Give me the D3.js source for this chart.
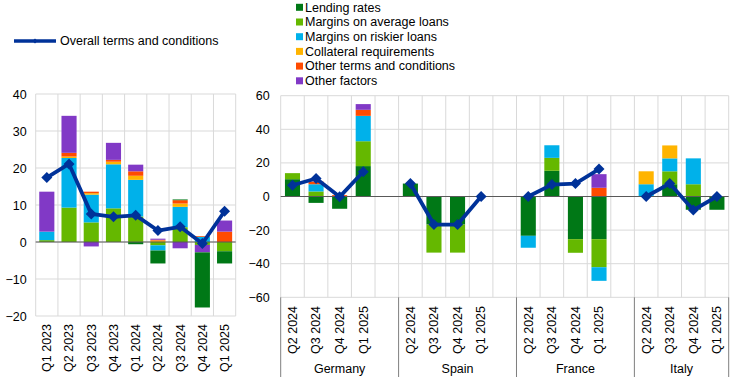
<!DOCTYPE html>
<html>
<head>
<meta charset="utf-8">
<script src="https://cdn.jsdelivr.net/npm/d3@7"></script>
<style>
  body { margin: 0; background: #fff; }
  text { font-family: Arial, "Liberation Sans", sans-serif; font-size: 12.5px; fill: #000; }
</style>
</head>
<body>
<svg id="chart" width="745" height="385"></svg>
<script>
// factor names, legend order
const factors = ["Lending rates", "Margins on average loans", "Margins on riskier loans",
                 "Collateral requirements", "Other terms and conditions", "Other factors"];
const factorKeys = ["lending", "avg", "riskier", "collateral", "otherTC", "otherFactors"];
const factorColours = ["#007816", "#65b800", "#00b1ea", "#ffb400", "#ff4b00", "#8139c6"];

// euro area panel
const eaQuarters = ["Q1 2023", "Q2 2023", "Q3 2023", "Q4 2023", "Q1 2024", "Q2 2024", "Q3 2024", "Q4 2024", "Q1 2025"];
const eaLending      = [0, 0, 0, 0, -0.6, -3.5, 0.2, -14.9, -3.3];
const eaAvg          = [0.5, 9.3, 5.3, 9.1, 6.9, -0.9, 4.0, -0.8, -2.5];
const eaRiskier      = [2.3, 13.4, 7.5, 11.9, 9.9, -1.4, 5.5, 1.4, 0];
const eaCollateral   = [0, 0.4, 0.4, 0.7, 1.1, 0.4, 0.9, 0, 0];
const eaOtherTC      = [0, 1.0, 0.4, 0.5, 1.2, 0.2, 0.9, 0.2, 2.8];
const eaOtherFactors = [10.8, 10.0, -1.2, 4.6, 1.8, 0.3, -1.7, -2.0, 3.0];
const eaOverall      = [17.4, 21.1, 7.6, 6.8, 7.2, 3.1, 4.1, -0.4, 8.3];
const eaTicks = [-20, -10, 0, 10, 20, 30, 40];

// country panel, values per country: Q2 2024, Q3 2024, Q4 2024, Q1 2025
const countries = ["Germany", "Spain", "France", "Italy"];
const ctyQuarters = ["Q2 2024", "Q3 2024", "Q4 2024", "Q1 2025"];
const ctyLending = [
  10.3, -3.8, -7.3, 18.1,      // Germany
  7.7, -16.7, -16.7, 0,        // Spain
  -23.4, 15.3, -25.4, -25.4,   // France
  0, 7.3, -7.9, -7.9           // Italy
];
const ctyAvg = [
  3.6, 3.0, 0, 14.8,
  0, -16.7, -16.7, 0,
  0, 7.7, -8.1, -16.7,
  0, 7.7, 7.3, 0
];
const ctyRiskier = [
  0, 4.3, 0, 15.1,
  0, 0, 0, 0,
  -7.1, 7.5, 0, -8.1,
  7.3, 7.7, 15.4, 0
];
const ctyCollateral = [
  0, 0, 0, 0,
  0, 0, 0, 0,
  0, 0, 0, 0,
  7.7, 7.7, 0, 0
];
const ctyOtherTC = [
  0, 1.6, 0.8, 3.6,
  0, 0, 0, 0,
  0, 0, 0, 5.2,
  0, 0, 0, 0
];
const ctyOtherFactors = [
  0, 0, 0, 3.4,
  0, 0, 0, 0,
  0, 0, 0, 8.1,
  0, 0, 0, 0
];
const ctyOverall = [
  6.7, 10.7, -0.2, 14.7,
  7.7, -16.7, -16.7, 0,
  0, 7.1, 7.7, 16.3,
  0, 7.7, -8.1, 0
];
const ctyTicks = [-60, -40, -20, 0, 20, 40, 60];

const lineColour = "#003299";
const gridColour = "#d9d9d9";
const svg = d3.select("#chart");

// diamond marker path
const diamond = r => `M0,${-r}L${r},0L0,${r}L${-r},0Z`;

// ---------- euro area panel ----------
const eaRows = eaQuarters.map((q, i) => ({
  key: q,
  lending: eaLending[i], avg: eaAvg[i], riskier: eaRiskier[i],
  collateral: eaCollateral[i], otherTC: eaOtherTC[i], otherFactors: eaOtherFactors[i],
  overall: eaOverall[i]
}));
// in this panel lending rates is stacked last
const eaOrder = ["avg", "riskier", "collateral", "otherTC", "otherFactors", "lending"];

const xEA = d3.scaleBand().domain(eaQuarters).range([35.7, 235.7]).paddingInner(0.32).paddingOuter(0.16);
const yEA = d3.scaleLinear().domain([-20, 40]).range([316, 94]);

const gEA = svg.append("g");

gEA.selectAll(".hgrid").data(eaTicks).enter().append("line")
   .attr("x1", 35.7).attr("x2", 235.7)
   .attr("y1", d => yEA(d)).attr("y2", d => yEA(d))
   .attr("stroke", gridColour);
gEA.selectAll(".vgrid").data(d3.range(eaQuarters.length + 1)).enter().append("line")
   .attr("x1", d => 35.7 + d * xEA.step()).attr("x2", d => 35.7 + d * xEA.step())
   .attr("y1", yEA(40)).attr("y2", yEA(-20))
   .attr("stroke", gridColour);

const eaStack = d3.stack().keys(eaOrder).offset(d3.stackOffsetDiverging)(eaRows);
gEA.selectAll(".series").data(eaStack).enter().append("g")
   .attr("fill", d => factorColours[factorKeys.indexOf(d.key)])
   .selectAll("rect").data(d => d).enter().append("rect")
   .attr("x", d => xEA(d.data.key))
   .attr("width", xEA.bandwidth())
   .attr("y", d => yEA(Math.max(d[0], d[1])))
   .attr("height", d => Math.abs(yEA(d[0]) - yEA(d[1])));

gEA.append("line")
   .attr("x1", 35.7).attr("x2", 235.7)
   .attr("y1", yEA(0)).attr("y2", yEA(0))
   .attr("stroke", "#595959");

const eaAxis = gEA.append("g").attr("transform", "translate(35.7,0)")
   .call(d3.axisLeft(yEA).tickValues(eaTicks).tickSize(0).tickPadding(9));
eaAxis.select(".domain").remove();
eaAxis.selectAll("text").style("font-size", "12.5px").attr("fill", "#000");

gEA.selectAll(".xlab").data(eaQuarters).enter().append("text")
   .attr("transform", d => `translate(${xEA(d) + xEA.bandwidth() / 2},324) rotate(-90)`)
   .attr("text-anchor", "end").attr("dy", "0.35em")
   .text(d => d);

const lineEA = d3.line().x(d => xEA(d.key) + xEA.bandwidth() / 2).y(d => yEA(d.overall));
gEA.append("path").datum(eaRows)
   .attr("d", lineEA).attr("fill", "none")
   .attr("stroke", lineColour).attr("stroke-width", 3.8).attr("stroke-linejoin", "round");
gEA.selectAll(".marker").data(eaRows).enter().append("path")
   .attr("d", diamond(5.5))
   .attr("transform", d => `translate(${xEA(d.key) + xEA.bandwidth() / 2},${yEA(d.overall)})`)
   .attr("fill", lineColour);

// ---------- country panel ----------
const ctyRows = [];
countries.forEach((c, ci) => {
  ctyQuarters.forEach((q, qi) => {
    const i = ci * ctyQuarters.length + qi;
    ctyRows.push({
      key: c + "|" + q, country: c, quarter: q,
      lending: ctyLending[i], avg: ctyAvg[i], riskier: ctyRiskier[i],
      collateral: ctyCollateral[i], otherTC: ctyOtherTC[i], otherFactors: ctyOtherFactors[i],
      overall: ctyOverall[i]
    });
  });
});
const slots = countries.flatMap((c, ci) =>
  ctyQuarters.map(q => c + "|" + q).concat(ci < countries.length - 1 ? [c + "|gap"] : []));

const ctyLeft = 280.7, ctyRight = 728.7;
const xC = d3.scaleBand().domain(slots).range([ctyLeft, ctyRight]).paddingInner(0.36).paddingOuter(0.18);
const yC = d3.scaleLinear().domain([-60, 60]).range([297.3, 95.7]);

const gC = svg.append("g");

gC.selectAll(".hgrid").data(ctyTicks).enter().append("line")
  .attr("x1", ctyLeft).attr("x2", ctyRight)
  .attr("y1", d => yC(d)).attr("y2", d => yC(d))
  .attr("stroke", gridColour);
gC.selectAll(".vgrid").data(d3.range(slots.length + 1)).enter().append("line")
  .attr("x1", d => ctyLeft + d * xC.step()).attr("x2", d => ctyLeft + d * xC.step())
  .attr("y1", yC(60)).attr("y2", yC(-60))
  .attr("stroke", gridColour);

const ctyStack = d3.stack().keys(factorKeys).offset(d3.stackOffsetDiverging)(ctyRows);
gC.selectAll(".series").data(ctyStack).enter().append("g")
  .attr("fill", (d, i) => factorColours[i])
  .selectAll("rect").data(d => d).enter().append("rect")
  .attr("x", d => xC(d.data.key))
  .attr("width", xC.bandwidth())
  .attr("y", d => yC(Math.max(d[0], d[1])))
  .attr("height", d => Math.abs(yC(d[0]) - yC(d[1])));

gC.append("line")
  .attr("x1", ctyLeft).attr("x2", ctyRight)
  .attr("y1", yC(0)).attr("y2", yC(0))
  .attr("stroke", "#595959");

const cAxis = gC.append("g").attr("transform", `translate(${ctyLeft},0)`)
  .call(d3.axisLeft(yC).tickValues(ctyTicks).tickSize(0).tickPadding(11));
cAxis.select(".domain").remove();
cAxis.selectAll("text").style("font-size", "12.5px").attr("fill", "#000");

gC.selectAll(".xlab").data(ctyRows).enter().append("text")
  .attr("transform", d => `translate(${xC(d.key) + xC.bandwidth() / 2},306) rotate(-90)`)
  .attr("text-anchor", "end").attr("dy", "0.35em")
  .text(d => d.quarter);

// group separators and country names
const groupEdges = countries.map((c, ci) => ctyLeft + ci * (ctyQuarters.length + 1) * xC.step()).concat([ctyRight]);
gC.selectAll(".sep").data(groupEdges).enter().append("line")
  .attr("x1", d => d).attr("x2", d => d)
  .attr("y1", yC(-60)).attr("y2", 377)
  .attr("stroke", "#7f7f7f");
gC.selectAll(".group").data(countries).enter().append("text")
  .attr("x", (d, i) => (groupEdges[i] + groupEdges[i + 1]) / 2)
  .attr("y", 373)
  .attr("text-anchor", "middle")
  .text(d => d);

const lineC = d3.line().x(d => xC(d.key) + xC.bandwidth() / 2).y(d => yC(d.overall));
countries.forEach(c => {
  const rows = ctyRows.filter(r => r.country === c);
  gC.append("path").datum(rows)
    .attr("d", lineC).attr("fill", "none")
    .attr("stroke", lineColour).attr("stroke-width", 3.8).attr("stroke-linejoin", "round");
});
gC.selectAll(".marker").data(ctyRows).enter().append("path")
  .attr("d", diamond(5.5))
  .attr("transform", d => `translate(${xC(d.key) + xC.bandwidth() / 2},${yC(d.overall)})`)
  .attr("fill", lineColour);

// ---------- legends ----------
const legLine = svg.append("g");
legLine.append("line").attr("x1", 14).attr("x2", 56).attr("y1", 41).attr("y2", 41)
  .attr("stroke", lineColour).attr("stroke-width", 3.5);
legLine.append("path").attr("d", diamond(2.5)).attr("transform", "translate(35,41)").attr("fill", lineColour);
legLine.append("text").attr("x", 60).attr("y", 41).attr("dy", "0.35em").text("Overall terms and conditions");

const legBars = svg.append("g").selectAll("g").data(factors).enter().append("g")
  .attr("transform", (d, i) => `translate(296,${7.3 + i * 14.7})`);
legBars.append("rect").attr("x", 0).attr("y", -3.5).attr("width", 7).attr("height", 7)
  .attr("fill", (d, i) => factorColours[i]);
legBars.append("text").attr("x", 9).attr("y", 0).attr("dy", "0.35em").text(d => d);
</script>
</body>
</html>
